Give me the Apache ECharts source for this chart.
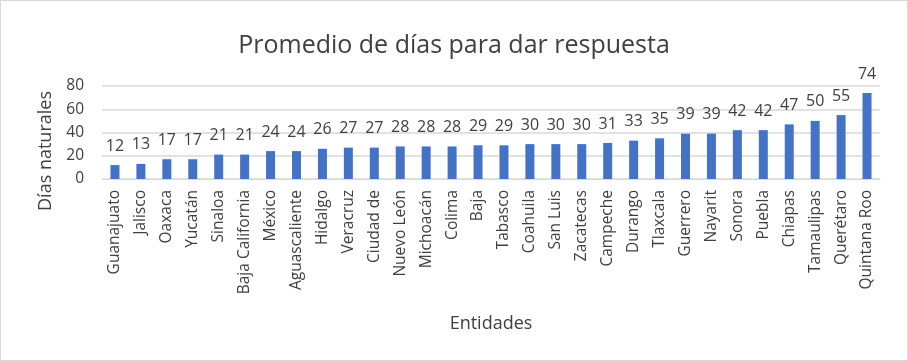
<!DOCTYPE html>
<html><head><meta charset="utf-8">
<script src="https://cdn.jsdelivr.net/npm/echarts@6/dist/echarts.min.js"></script>
<style>
html,body{margin:0;padding:0;background:#fff;}
#wrap{position:absolute;left:0;top:0;width:906px;height:359px;border:1px solid #d9d9d9;}
#c{width:906px;height:359px;}
</style></head><body>
<div id="wrap"><div id="c"></div></div>
<script>
const categories = ["Guanajuato","Jalisco","Oaxaca","Yucatán","Sinaloa","Baja California","México","Aguascaliente","Hidalgo","Veracruz","Ciudad de","Nuevo León","Michoacán","Colima","Baja","Tabasco","Coahuila","San Luis","Zacatecas","Campeche","Durango","Tlaxcala","Guerrero","Nayarit","Sonora","Puebla","Chiapas","Tamaulipas","Querétaro","Quintana Roo"];
const values = [12,13,17,17,21,21,24,24,26,27,27,28,28,28,29,29,30,30,30,31,33,35,39,39,42,42,47,50,55,74];
const yTicks = [0,20,40,60,80];
const titleText = "Promedio de días para dar respuesta";
const yName = "Días naturales";
const xName = "Entidades";

const font = "'Open Sans', 'Noto Sans', sans-serif";
const chart = echarts.init(document.getElementById('c'), null, {renderer:'canvas'});
chart.setOption({
  animation:false,
  textStyle:{fontFamily:font},
  title:{text:titleText,left:'center',top:27,textStyle:{fontFamily:font,fontSize:25,fontWeight:'normal',color:'#404040'}},
  grid:{left:101,right:27,top:85,bottom:181,containLabel:false},
  graphic:[{type:'text',left:36,top:90,rotation:Math.PI/2,
    style:{text:yName,fontFamily:font,fontSize:18,fill:'#404040'}}],
  xAxis:{type:'category',data:categories,
    name:xName,nameLocation:'middle',nameGap:136,
    nameTextStyle:{fontFamily:font,fontSize:18,color:'#404040'},
    axisLine:{lineStyle:{color:'#d9d9d9'}},axisTick:{show:false},
    axisLabel:{rotate:90,interval:0,margin:11,fontFamily:font,fontSize:15.5,color:'#404040'}},
  yAxis:{type:'value',min:yTicks[0],max:yTicks[yTicks.length-1],interval:20,
    axisLine:{show:false},axisTick:{show:false},
    splitLine:{lineStyle:{color:'#d9d9d9',width:1.5}},
    axisLabel:{fontFamily:font,fontSize:15.5,color:'#404040',margin:18}},
  series:[{type:'bar',data:values,barWidth:9,
    itemStyle:{color:'#4472c4'},
    label:{show:true,position:'top',distance:11,fontFamily:font,fontSize:16,color:'#404040'}}]
});
</script></body></html>
